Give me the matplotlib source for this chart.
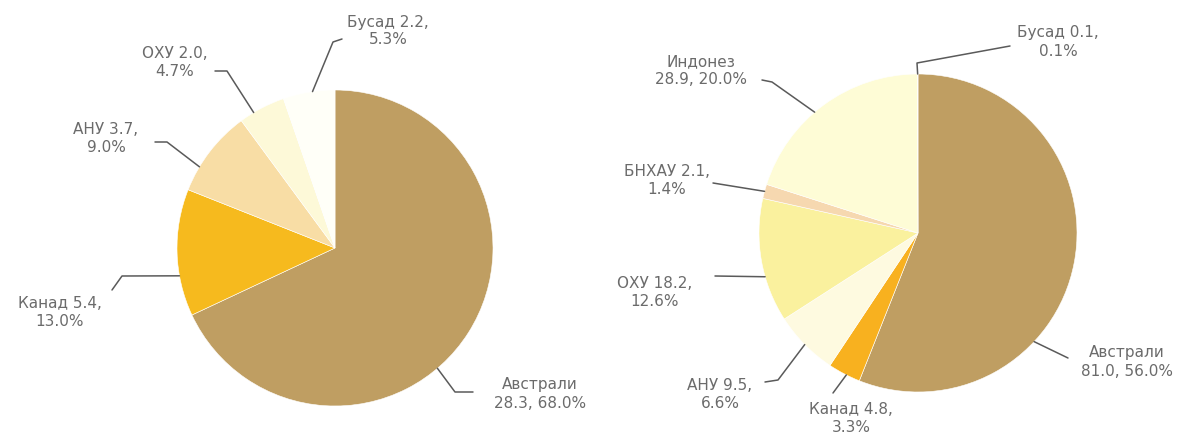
import numpy as np
import matplotlib
matplotlib.use("Agg")
import matplotlib.pyplot as plt

W, H = 1190, 442

# left pie
left_names = ["Австрали", "Канад", "АНУ", "ОХУ", "Бусад"]
left_values = [28.3, 5.4, 3.7, 2.0, 2.2]
left_pct = ["68.0%", "13.0%", "9.0%", "4.7%", "5.3%"]
left_colors = ["#BF9E62", "#F6BA1E", "#F8DDA5", "#FDF9D8", "#FFFFF8"]

# right pie
right_names = ["Австрали", "Канад", "АНУ", "ОХУ", "БНХАУ", "Индонез", "Бусад"]
right_values = [81.0, 4.8, 9.5, 18.2, 2.1, 28.9, 0.1]
right_pct = ["56.0%", "3.3%", "6.6%", "12.6%", "1.4%", "20.0%", "0.1%"]
right_colors = ["#BF9E62", "#F8B11F", "#FEFAE0", "#FAF19E", "#F6D8B0", "#FEFCD6", "#FFFFF0"]

left_text = [
    "Австрали\n28.3, 68.0%",
    "Канад 5.4,\n13.0%",
    "АНУ 3.7,\n9.0%",
    "ОХУ 2.0,\n4.7%",
    "Бусад 2.2,\n5.3%",
]
right_text = [
    "Австрали\n81.0, 56.0%",
    "Канад 4.8,\n3.3%",
    "АНУ 9.5,\n6.6%",
    "ОХУ 18.2,\n12.6%",
    "БНХАУ 2.1,\n1.4%",
    "Индонез\n28.9, 20.0%",
    "Бусад 0.1,\n0.1%",
]

# label layout in pixels from top-left: text centre, line start, elbow, fraction along wedge
left_layout = [
    ((540, 394), (473, 392), (455, 392), 0.57),
    ((60, 313), (112, 290), (122, 276), 0.32),
    ((106, 138), (155, 142), (167, 142), 0.29),
    ((175, 62), (215, 71), (227, 71), 0.31),
    ((388, 31), (342, 39), (333, 42), 0.57),
]
right_layout = [
    ((1127, 362), (1068, 358), None, 0.66),
    ((851, 418), (833, 393), None, 0.43),
    ((720, 395), (765, 382), (778, 380), 0.5),
    ((655, 292), (715, 276), None, 0.37),
    ((667, 180), (713, 183), None, 0.5),
    ((701, 71), (762, 80), (772, 82), 0.44),
    ((1058, 42), (1010, 46), (917, 63), 0.5),
]

fig = plt.figure(figsize=(W / 100, H / 100), dpi=100)
ax = fig.add_axes([0, 0, 1, 1])

txt_color = "#6b6b6b"
line_color = "#5a5a5a"


def draw(values, colors, texts, layout, center, radius):
    cx, cy = center
    wedges, _ = ax.pie(values, colors=colors, startangle=90, counterclock=False,
                       center=(cx, H - cy), radius=radius,
                       wedgeprops=dict(edgecolor="white", linewidth=0.4))
    for w, t, (tc, start, elbow, frac) in zip(wedges, texts, layout):
        # counterclock=False: theta2 is the start, theta1 the end
        ang = np.deg2rad(w.theta2 - frac * (w.theta2 - w.theta1))
        ex = cx + radius * np.cos(ang)
        ey = H - cy + radius * np.sin(ang)
        xs = [start[0]]
        ys = [H - start[1]]
        if elbow is not None:
            xs.append(elbow[0])
            ys.append(H - elbow[1])
        xs.append(ex)
        ys.append(ey)
        ax.plot(xs, ys, color=line_color, lw=1.1, solid_capstyle="round")
        ax.text(tc[0], H - tc[1], t, ha="center", va="center", fontsize=11,
                color=txt_color, linespacing=1.25, family="DejaVu Sans")


draw(left_values, left_colors, left_text, left_layout, (335, 248), 158)
draw(right_values, right_colors, right_text, right_layout, (918, 233), 159)

# pie() resets the limits, so set them afterwards
ax.set_xlim(0, W)
ax.set_ylim(0, H)
ax.set_aspect("equal")
ax.axis("off")

fig.savefig("out.png", dpi=100, facecolor="white")
